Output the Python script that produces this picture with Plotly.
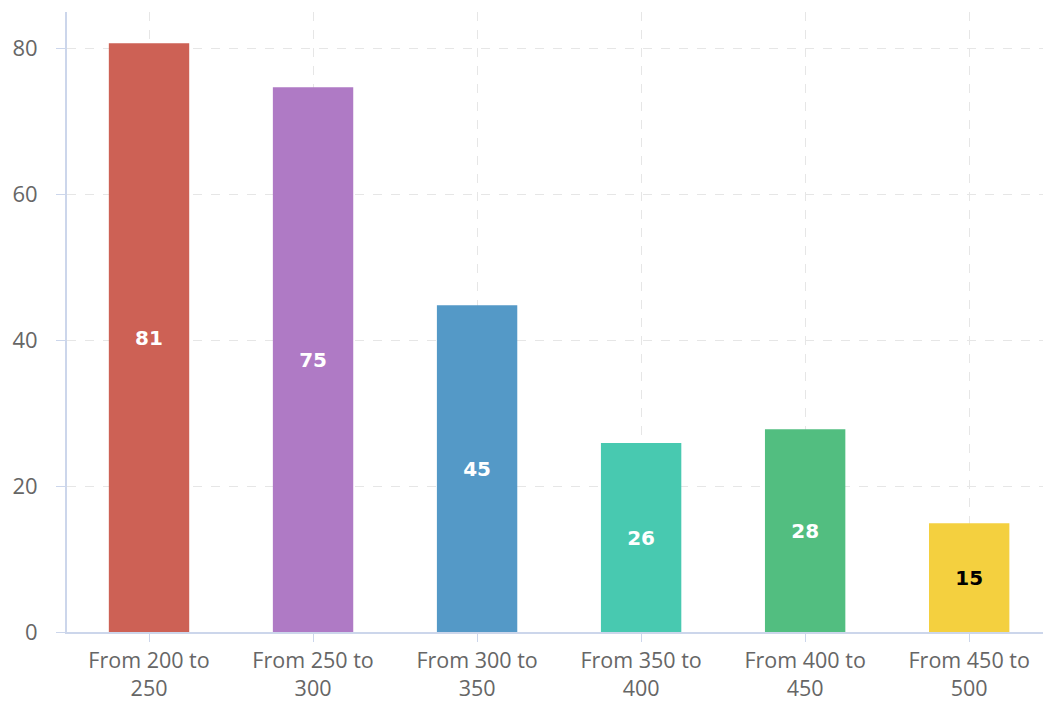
import plotly.graph_objects as go

categories = ["From 200 to<br>250", "From 250 to<br>300", "From 300 to<br>350",
              "From 350 to<br>400", "From 400 to<br>450", "From 450 to<br>500"]
values = [80.7, 74.7, 44.8, 25.9, 27.8, 14.9]
colors = ["#CD6155", "#AF7AC5", "#5499C7", "#48C9B0", "#52BE80", "#F4D03F"]
label_colors = ["white", "white", "white", "white", "white", "black"]

fig = go.Figure(go.Bar(
    x=categories, y=values,
    marker=dict(color=colors, line=dict(width=0)),
    width=0.49,
    texttemplate="%{y:.0f}",
    textposition="inside",
    insidetextanchor="middle",
    textangle=0,
    textfont=dict(family="DejaVu Sans", size=20, color=label_colors, weight="bold"),
))

fig.update_layout(
    width=1043, height=702,
    margin=dict(l=67, r=0, t=12, b=70, autoexpand=False),
    plot_bgcolor="white", paper_bgcolor="white",
    showlegend=False,
    xaxis=dict(
        range=[-0.5, 5.45], automargin=False,
        showline=True, linecolor="#ccd6eb", linewidth=2,
        showgrid=True, gridcolor="#e6e6e6", griddash="dash", gridwidth=1,
        ticks="outside", ticklen=8, tickcolor="#ccd6eb",
        tickfont=dict(family="Open Sans", size=21.5, color="#666666"),
    ),
    yaxis=dict(
        range=[0, 85], dtick=20, automargin=False,
        showline=True, linecolor="#ccd6eb", linewidth=2,
        showgrid=True, gridcolor="#e6e6e6", griddash="dash", gridwidth=1,
        zeroline=False,
        ticks="outside", ticklen=9, tickcolor="#ccd6eb",
        ticklabelstandoff=14,
        tickfont=dict(family="Open Sans", size=22, color="#666666"),
    ),
)

fig.write_html(
    "out.html",
    config={"displayModeBar": False},
    post_script="document.body.style.margin='0';document.body.style.overflow='hidden';",
)
